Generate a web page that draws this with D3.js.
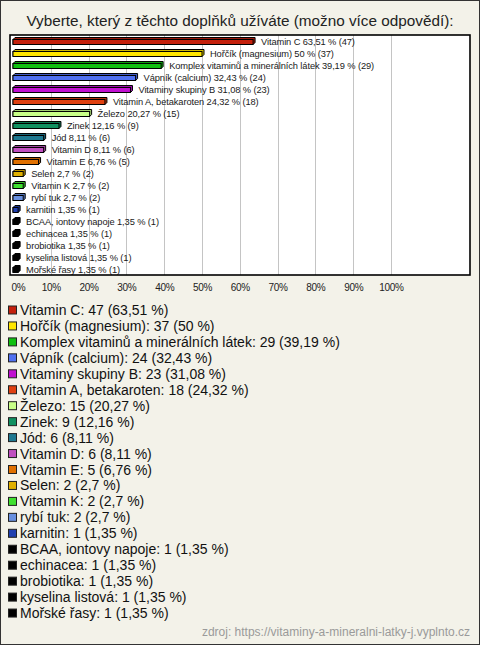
<!DOCTYPE html>
<html><head><meta charset="utf-8">
<script src="https://cdn.jsdelivr.net/npm/d3@7"></script>
<style>html,body{margin:0;padding:0;background:#f3f2e9;}svg{display:block;}</style>
</head><body>
<script>
const categories = ["Vitamin C","Hořčík (magnesium)","Komplex vitaminů a minerálních látek","Vápník (calcium)","Vitaminy skupiny B","Vitamin A, betakaroten","Železo","Zinek","Jód","Vitamin D","Vitamin E","Selen","Vitamin K","rybí tuk","karnitin","BCAA, iontovy napoje","echinacea","brobiotika","kyselina listová","Mořské řasy"];
const counts = [47,37,29,24,23,18,15,9,6,6,5,2,2,2,1,1,1,1,1,1];
const percents = [63.51,50,39.19,32.43,31.08,24.32,20.27,12.16,8.11,8.11,6.76,2.7,2.7,2.7,1.35,1.35,1.35,1.35,1.35,1.35];
const colors = ["#c4200c","#ffe600","#10c010","#4f70f0","#c010d0","#e04010","#c8ff88","#109060","#1e7890","#c050c0","#e07000","#e0b000","#40e030","#6890e0","#2040b0","#000000","#000000","#000000","#000000","#000000"];
const tickValues = [0,10,20,30,40,50,60,70,80,90,100];
const title = "Vyberte, který z těchto doplňků užíváte (možno více odpovědí):";
const source = "zdroj: https://vitaminy-a-mineralni-latky-j.vyplnto.cz";

const W = 480, H = 645;
const fmt = v => String(v).replace(".", ",");
const svg = d3.select("body").append("svg").attr("width", W).attr("height", H);
svg.append("rect").attr("x",0.5).attr("y",0.5).attr("width",W-1).attr("height",H-1)
  .attr("fill","#f3f2e9").attr("stroke","#333");

svg.append("text").attr("x",240).attr("y",26).attr("text-anchor","middle")
  .attr("font-family","Liberation Sans, Arial, sans-serif").attr("font-size",15.3).attr("fill","#222").text(title);

const plot = {x:10, y:35, w:460, h:240};
const x = d3.scaleLinear().domain([0,100]).range([13, 391]);
const y = d3.scaleBand().domain(categories).range([plot.y, plot.y+plot.h]).paddingInner(0).paddingOuter(0);

svg.append("rect").attr("x",plot.x).attr("y",plot.y).attr("width",plot.w).attr("height",plot.h).attr("fill","#fff");
// gridlines
svg.append("g").selectAll("line").data(tickValues.filter(d=>d>0)).join("line")
  .attr("x1",d=>Math.round(x(d))+0.5).attr("x2",d=>Math.round(x(d))+0.5)
  .attr("y1",plot.y).attr("y2",plot.y+plot.h).attr("stroke","#c4c4c4").attr("stroke-width",1);

// bars
const bh = 5, dx = 2, dy = 2;
const bars = svg.append("g").selectAll("g").data(categories).join("g");
bars.each(function(c,i){
  const g = d3.select(this);
  const x0 = x(0), x1 = x(percents[i]);
  const yc = y(c) + y.bandwidth()/2 + 1;
  const top = yc - bh/2;
  const col = d3.color(colors[i]);
  g.append("path")
    .attr("d", `M${x0},${top} L${x0+dx},${top-dy} L${x1+dx},${top-dy} L${x1+dx},${top+bh-dy} L${x1},${top+bh} L${x0},${top+bh} Z`)
    .attr("fill", colors[i]==="#000000" ? "#000" : col.darker(0.6)).attr("stroke","#000").attr("stroke-width",1);
  g.append("rect").attr("x",x0).attr("y",top).attr("width",Math.max(0,x1-x0)).attr("height",bh)
    .attr("fill",colors[i]).attr("stroke","#000").attr("stroke-width",1);
  g.append("text").attr("x", x1 + 8).attr("y", yc + 3.2)
    .attr("font-family","Liberation Sans, Arial, sans-serif").attr("font-size",9.3)
    .attr("letter-spacing",-0.1).attr("fill","#1a1a1a")
    .text(`${c} ${fmt(percents[i])} % (${counts[i]})`);
});

svg.append("rect").attr("x",plot.x).attr("y",plot.y).attr("width",plot.w).attr("height",plot.h)
  .attr("fill","none").attr("stroke","#000").attr("stroke-width",1.6);

// axis labels
const axis = d3.axisBottom(x).tickValues(tickValues).tickFormat(d=>d+"%").tickSize(0).tickPadding(0);
const ag = svg.append("g").attr("transform",`translate(0,${plot.y+plot.h+9})`).call(axis);
ag.select(".domain").remove();
ag.selectAll("text").attr("font-family","Liberation Sans, Arial, sans-serif").attr("font-size",10)
  .attr("letter-spacing",-0.3).attr("fill","#222").attr("dy","0.71em");
ag.selectAll(".tick").filter(d=>d===0).select("text").attr("x",5);

// legend
const lg = svg.append("g").selectAll("g").data(categories).join("g")
  .attr("transform",(d,i)=>`translate(8,${305.5 + i*15.95})`);
lg.append("rect").attr("x",0.5).attr("y",0.5).attr("width",8).attr("height",8)
  .attr("fill",(d,i)=>colors[i]).attr("stroke","#222").attr("stroke-width",1);
lg.append("text").attr("x",12).attr("y",9.5)
  .attr("font-family","Liberation Sans, Arial, sans-serif").attr("font-size",14).attr("fill","#111")
  .text((d,i)=>`${d}: ${counts[i]} (${fmt(percents[i])} %)`);

svg.append("text").attr("x",470).attr("y",636).attr("text-anchor","end")
  .attr("font-family","Liberation Sans, Arial, sans-serif").attr("font-size",12).attr("fill","#9a9a9a").text(source);
</script>
</body></html>
